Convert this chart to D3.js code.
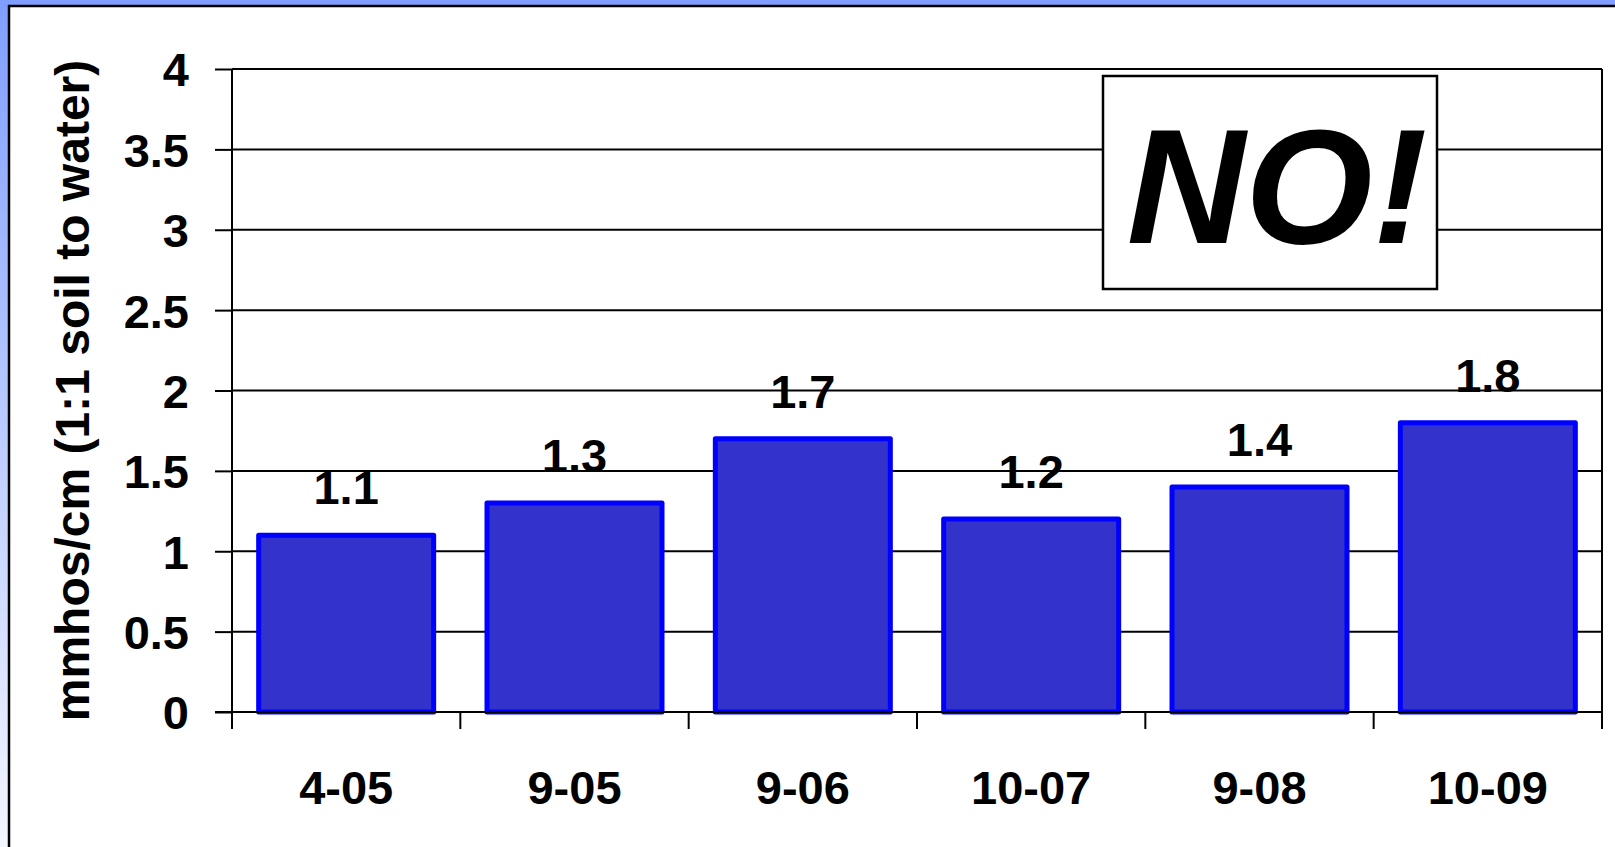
<!DOCTYPE html>
<html>
<head>
<meta charset="utf-8">
<script src="https://cdn.jsdelivr.net/npm/d3@7"></script>
<style>
  body { margin: 0; padding: 0; overflow: hidden; }
  text { font-family: Arial, "Liberation Sans", sans-serif; font-weight: bold; fill: #000; }
</style>
</head>
<body>
<div id="canvas"></div>
<script>
// Data
var categories = ["4-05", "9-05", "9-06", "10-07", "9-08", "10-09"];
var values = [1.1, 1.3, 1.7, 1.2, 1.4, 1.8];
var yTicks = [0, 0.5, 1, 1.5, 2, 2.5, 3, 3.5, 4];
var yTitle = "mmhos/cm (1:1 soil to water)";
var stamp = "NO!";

// Dimensions
var w = 1615;
var h = 847;
var plot = {left: 232, right: 1602, top: 69, bottom: 712};

var svg = d3.select("#canvas")
    .append("svg")
    .attr("width", w)
    .attr("height", h);

// Background gradient (blue at top fading to white)
var grad = svg.append("defs").append("linearGradient")
    .attr("id", "bg")
    .attr("x1", 0).attr("y1", 0).attr("x2", 0).attr("y2", 1);
grad.append("stop").attr("offset", "0%").attr("stop-color", "#7f9eff");
grad.append("stop").attr("offset", "100%").attr("stop-color", "#f4f6ff");

svg.append("rect")
    .attr("width", w)
    .attr("height", h)
    .attr("fill", "url(#bg)");

// White panel with black frame (runs off right/bottom edges)
svg.append("rect")
    .attr("x", 9)
    .attr("y", 6)
    .attr("width", w + 20)
    .attr("height", h + 20)
    .attr("fill", "#fff")
    .attr("stroke", "#000")
    .attr("stroke-width", 2.5);

// Scales
var x = d3.scaleBand()
    .domain(categories)
    .range([plot.left, plot.right])
    .paddingInner(0.2336)
    .paddingOuter(0.1168);

var y = d3.scaleLinear()
    .domain([0, 4])
    .range([plot.bottom, plot.top]);

// Gridlines
svg.append("g")
    .selectAll("line")
    .data(yTicks.filter(d => d > 0))
    .join("line")
    .attr("x1", plot.left)
    .attr("x2", plot.right)
    .attr("y1", d => y(d))
    .attr("y2", d => y(d))
    .attr("stroke", "#000")
    .attr("stroke-width", 2);

// Y axis
var yAxis = svg.append("g")
    .attr("transform", `translate(${plot.left},0)`)
    .call(d3.axisLeft(y).tickValues(yTicks).tickSize(17).tickPadding(26).tickFormat(d3.format("")));
yAxis.select(".domain").remove();
yAxis.selectAll(".tick line").attr("stroke", "#000").attr("stroke-width", 2);
yAxis.selectAll(".tick text")
    .attr("dy", "0.36em")
    .style("font-size", "47px")
    .style("font-family", "Arial, 'Liberation Sans', sans-serif")
    .style("font-weight", "bold")
    .attr("fill", "#000");

// X category boundary ticks
var step = x.step();
var edges = categories.map(c => x(c) - step * x.paddingInner() / 2);
edges.push(plot.right);

svg.append("g")
    .selectAll("line")
    .data(edges)
    .join("line")
    .attr("x1", d => d)
    .attr("x2", d => d)
    .attr("y1", plot.bottom)
    .attr("y2", plot.bottom + 17)
    .attr("stroke", "#000")
    .attr("stroke-width", 2);

// Axis lines and right border
svg.append("line")
    .attr("x1", plot.left).attr("x2", plot.left)
    .attr("y1", plot.top).attr("y2", plot.bottom + 17)
    .attr("stroke", "#000").attr("stroke-width", 2);
svg.append("line")
    .attr("x1", plot.right).attr("x2", plot.right)
    .attr("y1", plot.top).attr("y2", plot.bottom)
    .attr("stroke", "#000").attr("stroke-width", 2);

// Bars
svg.append("g")
    .selectAll("rect")
    .data(values)
    .join("rect")
    .attr("x", (d, i) => x(categories[i]))
    .attr("y", d => y(d))
    .attr("width", x.bandwidth())
    .attr("height", d => y(0) - y(d))
    .attr("fill", "#3333cc")
    .attr("stroke", "#0000ff")
    .attr("stroke-width", 5)
    .attr("stroke-linejoin", "round");

svg.append("line")
    .attr("x1", plot.left - 17).attr("x2", plot.right)
    .attr("y1", plot.bottom).attr("y2", plot.bottom)
    .attr("stroke", "#000").attr("stroke-width", 2);

// Value labels
svg.append("g")
    .selectAll("text")
    .data(values)
    .join("text")
    .attr("x", (d, i) => x(categories[i]) + x.bandwidth() / 2)
    .attr("y", d => y(d) - 31)
    .attr("text-anchor", "middle")
    .style("font-size", "47px")
    .text(d => d);

// Category labels
svg.append("g")
    .selectAll("text")
    .data(categories)
    .join("text")
    .attr("x", d => x(d) + x.bandwidth() / 2)
    .attr("y", 804)
    .attr("text-anchor", "middle")
    .style("font-size", "47px")
    .text(d => d);

// Y axis title
svg.append("text")
    .attr("transform", `translate(89,${(plot.top + plot.bottom) / 2}) rotate(-90)`)
    .attr("text-anchor", "middle")
    .style("font-size", "48px")
    .text(yTitle);

// "NO!" stamp box
svg.append("rect")
    .attr("x", 1103)
    .attr("y", 76)
    .attr("width", 334)
    .attr("height", 213)
    .attr("fill", "#fff")
    .attr("stroke", "#000")
    .attr("stroke-width", 2.5);

svg.append("text")
    .attr("x", 1277)
    .attr("y", 243)
    .attr("text-anchor", "middle")
    .style("font-size", "164px")
    .style("font-style", "italic")
    .text(stamp);
</script>
</body>
</html>
